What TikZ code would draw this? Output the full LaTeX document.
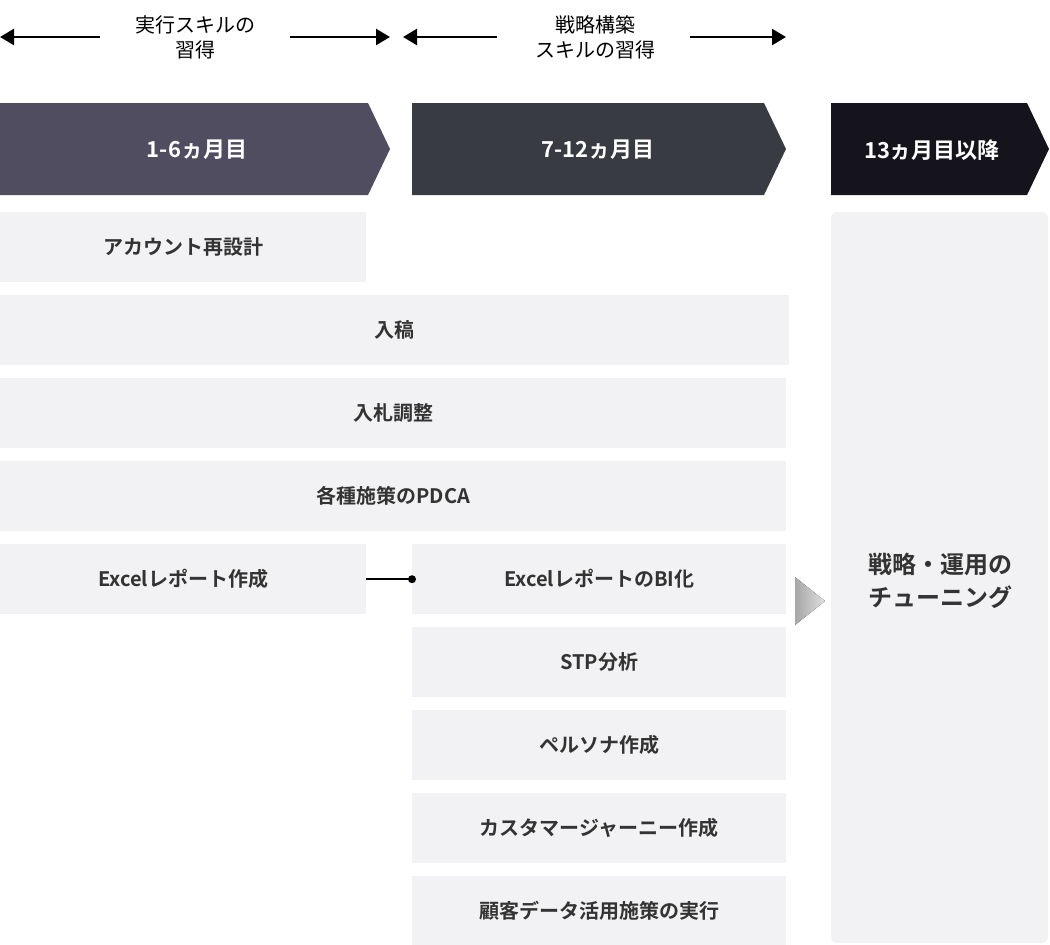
\documentclass[tikz,border=0pt]{standalone}
\usepackage{fontspec}
\setmainfont{Noto Sans CJK JP}[BoldFont={Noto Sans CJK JP Bold}]
\usetikzlibrary{arrows.meta}
\definecolor{cellgray}{HTML}{F2F2F4}
\definecolor{inkgray}{HTML}{333333}
\definecolor{phaseA}{HTML}{4F4D5F}
\definecolor{phaseB}{HTML}{383B42}
\definecolor{phaseC}{HTML}{15141C}
\tikzset{
  cell/.style={fill=cellgray,draw=none,inner sep=0pt,anchor=north west,
    font=\fontsize{20}{24}\selectfont\bfseries,text=inkgray},
  phase/.style={text=white,font=\fontsize{22}{26}\selectfont\bfseries},
  span/.style={-{Triangle[length=14pt,width=16pt]},line width=2.5pt},
  skillcap/.style={align=center,font=\fontsize{20}{25}\selectfont,text=black}
}
\begin{document}
\begin{tikzpicture}[x=1pt,y=-1pt]
  \useasboundingbox (0,0) rectangle (1050,945);
  % header arrows
  \node[skillcap] (skillA) at (195,37) {実行スキルの\\習得};
  \node[skillcap] (skillB) at (595,37) {戦略構築\\スキルの習得};
  \coordinate (a1) at (100,37); \coordinate (a0) at (0,37);
  \coordinate (a2) at (290,37); \coordinate (a3) at (390,37);
  \coordinate (b1) at (497,37); \coordinate (b0) at (403,37);
  \coordinate (b2) at (690,37); \coordinate (b3) at (786,37);
  \draw[span] (a1) -- (a0);
  \draw[span] (a2) -- (a3);
  \draw[span] (b1) -- (b0);
  \draw[span] (b2) -- (b3);
  % phases
  \fill[phaseA] (0,103) -- (368,103) -- (390,149) -- (368,195) -- (0,195) -- cycle;
  \fill[phaseB] (412,103) -- (764,103) -- (786,149) -- (764,195) -- (412,195) -- cycle;
  \fill[phaseC] (831,103) -- (1027,103) -- (1049,149) -- (1027,195) -- (831,195) -- cycle;
  \node[phase] (p1) at (197,150) {1-6ヵ月目};
  \node[phase] (p2) at (598,150) {7-12ヵ月目};
  \node[phase] (p3) at (932,150) {13ヵ月目以降};
  % cells
  \node[cell,minimum width=366pt,minimum height=70pt] (redo) at (0,212) {アカウント再設計};
  \node[cell,minimum width=789pt,minimum height=70pt] (entry) at (0,295) {入稿};
  \node[cell,minimum width=786pt,minimum height=70pt] (bid) at (0,378) {入札調整};
  \node[cell,minimum width=786pt,minimum height=70pt] (pdca) at (0,461) {各種施策のPDCA};
  \node[cell,minimum width=366pt,minimum height=70pt] (excel) at (0,544) {Excelレポート作成};
  \node[cell,minimum width=374pt,minimum height=70pt] (bi) at (412,544) {ExcelレポートのBI化};
  \node[cell,minimum width=374pt,minimum height=70pt] (stp) at (412,627) {STP分析};
  \node[cell,minimum width=374pt,minimum height=70pt] (persona) at (412,710) {ペルソナ作成};
  \node[cell,minimum width=374pt,minimum height=70pt] (journey) at (412,793) {カスタマージャーニー作成};
  \node[cell,minimum width=374pt,minimum height=69pt] (crm) at (412,876) {顧客データ活用施策の実行};
  \draw[line width=1.5pt] (excel.east) -- (bi.west);
  \fill (bi.west) circle (4pt);
  % final phase
  \fill[left color=gray!70,right color=gray!25] (795,577) -- (825,601) -- (795,625) -- cycle;
  \fill[cellgray,rounded corners=6pt] (831,212) rectangle (1048,943);
  \node[align=center,font=\fontsize{24}{33}\selectfont\bfseries,text=inkgray] (tune) at (940,581) {戦略・運用の\\チューニング};
\end{tikzpicture}
\end{document}
